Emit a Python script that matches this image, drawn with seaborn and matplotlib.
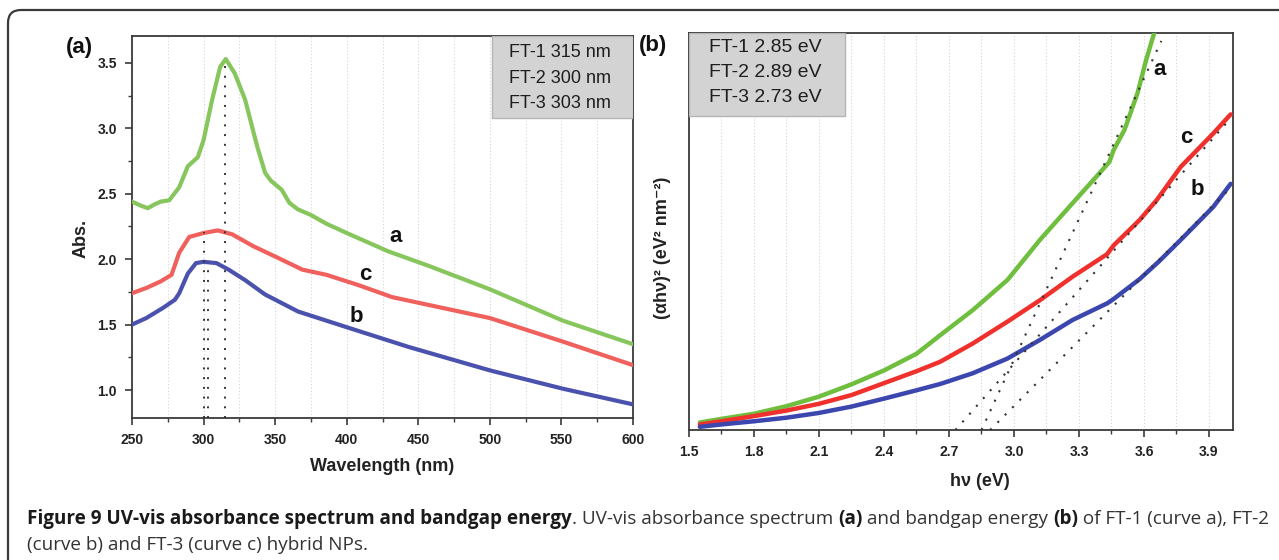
import numpy as np
import pandas as pd
import matplotlib
matplotlib.use("Agg")
import matplotlib.pyplot as plt
import seaborn as sns
from matplotlib.patches import FancyBboxPatch, Rectangle
from matplotlib.ticker import MultipleLocator, FormatStrFormatter

# ---------------- data: panel (a) UV-vis absorbance ----------------
wl_a = [250, 256, 261, 266, 270, 276, 283, 289, 296, 300, 306, 311.6, 315.5, 321.8, 329,
        337.5, 343, 347, 354.6, 360, 366, 374.6, 386, 400, 429, 457, 500, 551, 600]
abs_a = [2.44, 2.41, 2.39, 2.42, 2.44, 2.45, 2.55, 2.71, 2.78, 2.91, 3.22, 3.47, 3.53, 3.42, 3.22,
         2.86, 2.66, 2.60, 2.53, 2.43, 2.38, 2.34, 2.27, 2.20, 2.06, 1.95, 1.77, 1.53, 1.35]

wl_b = [250, 260, 272, 280, 283, 289, 294.7, 300, 309, 317.5, 329, 343, 366, 400, 443, 500, 551, 600]
abs_b = [1.50, 1.55, 1.63, 1.69, 1.74, 1.89, 1.97, 1.98, 1.97, 1.92, 1.84, 1.73, 1.60, 1.48, 1.33,
         1.15, 1.01, 0.89]

wl_c = [250, 260, 270, 277.6, 283, 290, 300, 310, 320, 334.6, 352, 369, 386, 408.7, 431.7, 500, 551, 600]
abs_c = [1.74, 1.78, 1.83, 1.88, 2.05, 2.17, 2.20, 2.22, 2.19, 2.10, 2.01, 1.92, 1.88, 1.80, 1.71,
         1.55, 1.37, 1.19]

peak_nm = [315, 300, 303]
peak_abs = [3.53, 2.21, 1.98]
box_a = ["FT-1 315 nm", "FT-2 300 nm", "FT-3 303 nm"]

# ---------------- data: panel (b) Tauc plot ----------------
hv_a = [1.55, 1.65, 1.8, 1.95, 2.1, 2.25, 2.4, 2.55, 2.66, 2.81, 2.97, 3.12, 3.27, 3.38, 3.44,
        3.46, 3.51, 3.57, 3.61, 3.65]
tauc_a = [1.9, 2.8, 4.1, 6.0, 8.4, 11.5, 15.0, 19.2, 23.9, 30.2, 37.8, 47.9, 57.1, 63.8, 67.5,
          70.5, 75.6, 84.8, 93.2, 100.5]

hv_b = [1.55, 1.65, 1.8, 1.95, 2.1, 2.25, 2.4, 2.55, 2.66, 2.81, 2.97, 3.12, 3.27, 3.43, 3.46,
        3.58, 3.67, 3.77, 3.92, 4.0]
tauc_b = [0.8, 1.4, 2.2, 3.1, 4.3, 5.9, 7.9, 10.0, 11.6, 14.3, 18.0, 22.7, 27.7, 31.9, 33.0,
          38.0, 42.5, 47.9, 56.2, 62.0]

hv_c = [1.55, 1.65, 1.8, 1.95, 2.1, 2.25, 2.44, 2.55, 2.66, 2.81, 2.97, 3.12, 3.27, 3.43, 3.46,
        3.58, 3.66, 3.77, 3.92, 4.0]
tauc_c = [1.4, 2.2, 3.5, 4.9, 6.6, 8.8, 12.6, 14.8, 17.2, 21.8, 27.3, 32.7, 38.6, 44.3, 46.5,
          52.9, 58.0, 66.3, 74.7, 79.5]

# tangent (extrapolation) lines: [start, end]
tan_a_hv, tan_a_val = [2.85, 3.68], [0, 98]
tan_b_hv, tan_b_val = [2.89, 4.0], [0, 61]
tan_c_hv, tan_c_val = [2.73, 4.0], [0, 78.5]
box_b = ["FT-1 2.85 eV", "FT-2 2.89 eV", "FT-3 2.73 eV"]

# ---------------- styling ----------------
sns.set_theme(style="white")
plt.rcParams["font.family"] = ["Liberation Sans", "DejaVu Sans"]

W, H = 1279, 560
fig = plt.figure(figsize=(W / 100, H / 100), dpi=100)
fig.patch.set_facecolor("white")

frame = FancyBboxPatch((0.08, -1.0), 14, 6.5, boxstyle="round,pad=0,rounding_size=0.13",
                       transform=fig.dpi_scale_trans, facecolor="none", edgecolor="#3a3a3a",
                       linewidth=1.6)
fig.patches.append(frame)

axA = fig.add_axes([132 / W, 1 - 418 / H, (633 - 132) / W, (418 - 36) / H])
axB = fig.add_axes([689 / W, 1 - 430 / H, (1233 - 689) / W, (430 - 33) / H])

GA, RA, BA = "#86c65c", "#f0605c", "#4b52ad"
GB, RB, BB = "#6fbe3e", "#f0302c", "#3b46ae"

for x, y, c in [(wl_a, abs_a, GA), (wl_c, abs_c, RA), (wl_b, abs_b, BA)]:
    sns.lineplot(x=x, y=y, ax=axA, color=c, linewidth=3.0, errorbar=None, zorder=3)
for x, y, c in [(hv_a, tauc_a, GB), (hv_c, tauc_c, RB), (hv_b, tauc_b, BB)]:
    sns.lineplot(x=x, y=y, ax=axB, color=c, linewidth=3.2, errorbar=None, zorder=3)

dot = (0, (1, 4))
axA.set_xlim(250, 600)
axA.set_ylim(0.786, 3.706)
axA.vlines(peak_nm, axA.get_ylim()[0], peak_abs, colors="#333333", linestyles=[dot], linewidth=1.4,
           zorder=4)

for hx, hy in [(tan_a_hv, tan_a_val), (tan_b_hv, tan_b_val), (tan_c_hv, tan_c_val)]:
    sns.lineplot(x=hx, y=hy, ax=axB, color="#333333", linewidth=1.5, linestyle=dot,
                 errorbar=None, zorder=4)
axB.set_xlim(1.5, 4.011)
axB.set_ylim(0, 100)

for ax in (axA, axB):
    for s in ax.spines.values():
        s.set_color("#3a3a3a")
        s.set_linewidth(1.3)
        s.set_visible(True)
    ax.set_facecolor("white")
    ax.tick_params(which="major", direction="out", length=5, width=1.2, color="#3a3a3a",
                   labelsize=10, pad=6)
    ax.tick_params(which="minor", direction="out", length=3, width=1.0, color="#3a3a3a")
    ax.grid(True, which="both", axis="x", color="#d4d4d4", linestyle=(0, (1, 2)), linewidth=0.8)
    ax.grid(False, axis="y", which="both")
    ax.set_axisbelow(True)

axA.xaxis.set_major_locator(MultipleLocator(50))
axA.xaxis.set_minor_locator(MultipleLocator(25))
axA.yaxis.set_major_locator(MultipleLocator(0.5))
axA.yaxis.set_minor_locator(MultipleLocator(0.25))
axA.yaxis.set_major_formatter(FormatStrFormatter("%.1f"))
axA.tick_params(which="both", bottom=True, left=True, top=False, right=False)

axB.xaxis.set_major_locator(MultipleLocator(0.3))
axB.xaxis.set_minor_locator(MultipleLocator(0.15))
axB.xaxis.set_major_formatter(FormatStrFormatter("%.1f"))
axB.set_yticks([])
axB.tick_params(which="both", bottom=True, left=False, top=False, right=False)

for ax in (axA, axB):
    for lbl in ax.get_xticklabels() + ax.get_yticklabels():
        lbl.set_fontweight("bold")
        lbl.set_color("#222222")

axA.set_xlabel("Wavelength (nm)", fontsize=13, fontweight="bold", color="#222222")
axA.set_ylabel("Abs.", fontsize=13, fontweight="bold", color="#222222")
axA.xaxis.set_label_coords(0.5, -0.105)
axA.yaxis.set_label_coords(-0.085, 0.47)

axB.set_xlabel("hν (eV)", fontsize=13, fontweight="bold", color="#222222")
axB.set_ylabel("(αhν)² (eV² nm⁻²)", fontsize=13, fontweight="bold", color="#222222")
axB.xaxis.set_label_coords(0.535, -0.108)
axB.yaxis.set_label_coords(-0.033, 0.46)

axA.add_patch(Rectangle((0.7186, 0.785), 0.2814, 0.215, transform=axA.transAxes,
                        facecolor="#d3d3d3", edgecolor="#b5b5b5", linewidth=1, zorder=5))
for i, t in enumerate(box_a):
    axA.text(0.752, [0.958, 0.890, 0.823][i], t, transform=axA.transAxes, fontsize=13,
             va="center", ha="left", color="#1e1e1e", zorder=6)
axB.add_patch(Rectangle((0.0, 0.791), 0.287, 0.209, transform=axB.transAxes,
                        facecolor="#d3d3d3", edgecolor="#b5b5b5", linewidth=1, zorder=5))
for i, t in enumerate(box_b):
    axB.text(0.036, [0.964, 0.900, 0.838][i], t, transform=axB.transAxes, fontsize=14,
             va="center", ha="left", color="#1e1e1e", zorder=6)

for (x, y, s) in [(434, 2.17, "a"), (413, 1.88, "c"), (407, 1.56, "b")]:
    axA.text(x, y, s, fontsize=16, fontweight="bold", ha="center", va="center", color="#111111")
for (x, y, s) in [(3.674, 90.7, "a"), (3.794, 73.8, "c"), (3.845, 60.5, "b")]:
    axB.text(x, y, s, fontsize=16, fontweight="bold", ha="center", va="center", color="#111111")

fig.text(79 / W, 1 - 47 / H, "(a)", fontsize=16, fontweight="bold", ha="center", va="center",
         color="#111111")
fig.text(653 / W, 1 - 45 / H, "(b)", fontsize=16, fontweight="bold", ha="center", va="center",
         color="#111111")

# caption
line1 = [("Figure 9 UV-vis absorbance spectrum and bandgap energy", "bold"),
         (". UV-vis absorbance spectrum ", "normal"), ("(a)", "bold"),
         (" and bandgap energy ", "normal"), ("(b)", "bold"),
         (" of FT-1 (curve a), FT-2", "normal")]
line2 = [("(curve b) and FT-3 (curve c) hybrid NPs.", "normal")]
cap_font = ["Open Sans", "DejaVu Sans"]
renderer = fig.canvas.get_renderer()


def measure(s, weight, size):
    t = fig.text(0, 0, s.replace(" ", "\u00a0"), fontsize=size, fontweight=weight, family=cap_font)
    w = t.get_window_extent(renderer).width
    t.remove()
    return w


base = 10
tot = sum(measure(s, w, base) for s, w in line1)
cap_size = base * (1268 - 27) / tot


def draw_line(pieces, ybase):
    x = 27
    for s, w in pieces:
        col = "#1a1a1a" if w == "bold" else "#333333"
        fig.text(x / W, 1 - ybase / H, s.replace(" ", "\u00a0"), fontsize=cap_size, fontweight=w,
                 family=cap_font, va="baseline", ha="left", color=col)
        x += measure(s, w, cap_size)


draw_line(line1, 524)
draw_line(line2, 550)

fig.savefig("out.png", dpi=100, facecolor="white")
